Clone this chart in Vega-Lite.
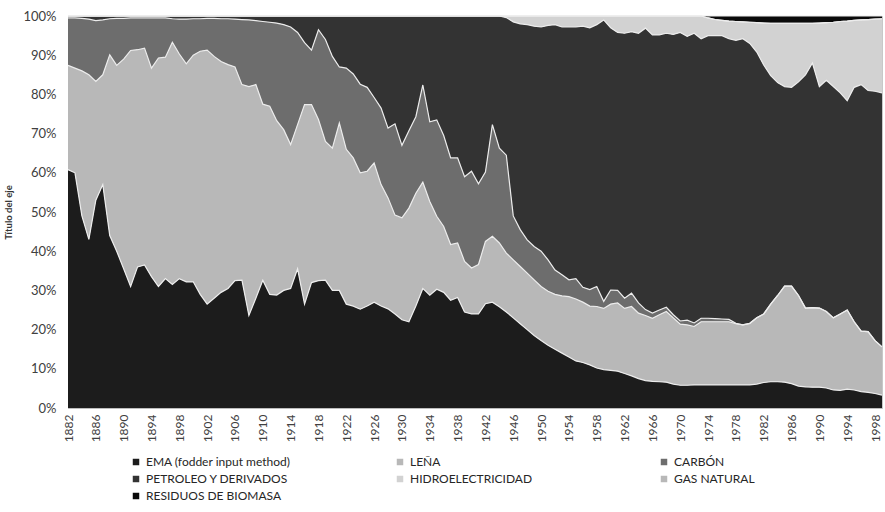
{
  "$schema": "https://vega.github.io/schema/vega-lite/v6.json",
  "width": 814,
  "height": 392,
  "autosize": "none",
  "padding": {"left": 68, "top": 16, "right": 3, "bottom": 104},
  "background": "white",
  "config": {
    "font": "Lato",
    "view": {"stroke": "#c8c8c8", "strokeWidth": 1}
  },
  "datasets": {
    "series": [
      {"k": "a", "serie": "EMA (fodder input method)", "o": 1},
      {"k": "b", "serie": "LEÑA", "o": 2},
      {"k": "c", "serie": "CARBÓN", "o": 3},
      {"k": "d", "serie": "PETROLEO Y DERIVADOS", "o": 4},
      {"k": "e", "serie": "HIDROELECTRICIDAD", "o": 5},
      {"k": "f", "serie": "GAS NATURAL", "o": 6},
      {"k": "g", "serie": "RESIDUOS DE BIOMASA", "o": 7}
    ]
  },
  "data": {
    "values": [
      {"anio":1882,"a":60.8,"b":26.6,"c":12.1,"d":0.5,"e":0,"f":0,"g":0},
      {"anio":1883,"a":60.0,"b":26.7,"c":12.8,"d":0.5,"e":0,"f":0,"g":0},
      {"anio":1884,"a":49.0,"b":37.0,"c":13.4,"d":0.6,"e":0,"f":0,"g":0},
      {"anio":1885,"a":43.0,"b":42.0,"c":14.2,"d":0.8,"e":0,"f":0,"g":0},
      {"anio":1886,"a":53.0,"b":30.3,"c":15.5,"d":1.2,"e":0,"f":0,"g":0},
      {"anio":1887,"a":57.0,"b":28.0,"c":14.0,"d":1.0,"e":0,"f":0,"g":0},
      {"anio":1888,"a":44.0,"b":46.1,"c":9.2,"d":0.7,"e":0,"f":0,"g":0},
      {"anio":1889,"a":40.0,"b":47.4,"c":12.0,"d":0.6,"e":0,"f":0,"g":0},
      {"anio":1890,"a":35.5,"b":53.5,"c":10.4,"d":0.6,"e":0,"f":0,"g":0},
      {"anio":1891,"a":31.0,"b":60.2,"c":8.3,"d":0.5,"e":0,"f":0,"g":0},
      {"anio":1892,"a":36.0,"b":55.4,"c":8.1,"d":0.5,"e":0,"f":0,"g":0},
      {"anio":1893,"a":36.5,"b":55.3,"c":7.7,"d":0.5,"e":0,"f":0,"g":0},
      {"anio":1894,"a":33.5,"b":53.2,"c":12.8,"d":0.5,"e":0,"f":0,"g":0},
      {"anio":1895,"a":31.0,"b":58.3,"c":10.2,"d":0.5,"e":0,"f":0,"g":0},
      {"anio":1896,"a":33.0,"b":56.5,"c":10.0,"d":0.5,"e":0,"f":0,"g":0},
      {"anio":1897,"a":31.5,"b":61.8,"c":6.0,"d":0.7,"e":0,"f":0,"g":0},
      {"anio":1898,"a":33.0,"b":57.3,"c":8.9,"d":0.8,"e":0,"f":0,"g":0},
      {"anio":1899,"a":32.2,"b":55.6,"c":11.4,"d":0.8,"e":0,"f":0,"g":0},
      {"anio":1900,"a":32.2,"b":57.8,"c":9.3,"d":0.7,"e":0,"f":0,"g":0},
      {"anio":1901,"a":29.0,"b":62.0,"c":8.3,"d":0.7,"e":0,"f":0,"g":0},
      {"anio":1902,"a":26.5,"b":64.8,"c":8.1,"d":0.6,"e":0,"f":0,"g":0},
      {"anio":1903,"a":28.0,"b":61.7,"c":9.7,"d":0.6,"e":0,"f":0,"g":0},
      {"anio":1904,"a":29.5,"b":58.9,"c":10.9,"d":0.7,"e":0,"f":0,"g":0},
      {"anio":1905,"a":30.5,"b":57.1,"c":11.7,"d":0.7,"e":0,"f":0,"g":0},
      {"anio":1906,"a":32.5,"b":54.5,"c":12.2,"d":0.8,"e":0,"f":0,"g":0},
      {"anio":1907,"a":32.6,"b":49.9,"c":16.6,"d":0.9,"e":0,"f":0,"g":0},
      {"anio":1908,"a":23.6,"b":58.4,"c":17.0,"d":1.0,"e":0,"f":0,"g":0},
      {"anio":1909,"a":28.0,"b":54.5,"c":16.3,"d":1.2,"e":0,"f":0,"g":0},
      {"anio":1910,"a":32.6,"b":44.9,"c":21.1,"d":1.4,"e":0,"f":0,"g":0},
      {"anio":1911,"a":29.0,"b":48.0,"c":21.4,"d":1.6,"e":0,"f":0,"g":0},
      {"anio":1912,"a":28.8,"b":44.5,"c":24.9,"d":1.8,"e":0,"f":0,"g":0},
      {"anio":1913,"a":30.0,"b":41.0,"c":26.8,"d":2.2,"e":0,"f":0,"g":0},
      {"anio":1914,"a":30.5,"b":36.7,"c":30.0,"d":2.8,"e":0,"f":0,"g":0},
      {"anio":1915,"a":35.5,"b":36.8,"c":23.5,"d":4.2,"e":0,"f":0,"g":0},
      {"anio":1916,"a":26.5,"b":50.9,"c":15.8,"d":6.8,"e":0,"f":0,"g":0},
      {"anio":1917,"a":32.0,"b":45.4,"c":13.9,"d":8.7,"e":0,"f":0,"g":0},
      {"anio":1918,"a":32.5,"b":41.1,"c":22.9,"d":3.5,"e":0,"f":0,"g":0},
      {"anio":1919,"a":32.6,"b":35.4,"c":26.0,"d":6.0,"e":0,"f":0,"g":0},
      {"anio":1920,"a":30.0,"b":36.3,"c":23.4,"d":10.3,"e":0,"f":0,"g":0},
      {"anio":1921,"a":30.0,"b":42.7,"c":14.3,"d":13.0,"e":0,"f":0,"g":0},
      {"anio":1922,"a":26.5,"b":39.5,"c":20.7,"d":13.3,"e":0,"f":0,"g":0},
      {"anio":1923,"a":26.0,"b":37.8,"c":21.4,"d":14.8,"e":0,"f":0,"g":0},
      {"anio":1924,"a":25.2,"b":34.8,"c":22.6,"d":17.4,"e":0,"f":0,"g":0},
      {"anio":1925,"a":26.0,"b":34.4,"c":21.4,"d":18.2,"e":0,"f":0,"g":0},
      {"anio":1926,"a":27.0,"b":35.5,"c":16.7,"d":20.8,"e":0,"f":0,"g":0},
      {"anio":1927,"a":26.0,"b":31.0,"c":19.5,"d":23.5,"e":0,"f":0,"g":0},
      {"anio":1928,"a":25.3,"b":28.3,"c":17.8,"d":28.6,"e":0,"f":0,"g":0},
      {"anio":1929,"a":24.0,"b":25.2,"c":23.3,"d":27.5,"e":0,"f":0,"g":0},
      {"anio":1930,"a":22.5,"b":26.0,"c":18.5,"d":33.0,"e":0,"f":0,"g":0},
      {"anio":1931,"a":22.0,"b":29.0,"c":19.7,"d":29.3,"e":0,"f":0,"g":0},
      {"anio":1932,"a":26.0,"b":28.8,"c":19.5,"d":25.7,"e":0,"f":0,"g":0},
      {"anio":1933,"a":30.5,"b":27.1,"c":24.8,"d":17.6,"e":0,"f":0,"g":0},
      {"anio":1934,"a":28.8,"b":23.9,"c":20.3,"d":27.0,"e":0,"f":0,"g":0},
      {"anio":1935,"a":30.3,"b":18.6,"c":24.6,"d":26.5,"e":0,"f":0,"g":0},
      {"anio":1936,"a":29.5,"b":16.8,"c":23.2,"d":30.5,"e":0,"f":0,"g":0},
      {"anio":1937,"a":27.5,"b":14.2,"c":22.1,"d":36.2,"e":0,"f":0,"g":0},
      {"anio":1938,"a":28.2,"b":13.9,"c":21.7,"d":36.2,"e":0,"f":0,"g":0},
      {"anio":1939,"a":24.5,"b":12.9,"c":21.6,"d":41.0,"e":0,"f":0,"g":0},
      {"anio":1940,"a":24.0,"b":11.7,"c":24.7,"d":39.6,"e":0,"f":0,"g":0},
      {"anio":1941,"a":24.0,"b":12.6,"c":20.6,"d":42.8,"e":0,"f":0,"g":0},
      {"anio":1942,"a":26.6,"b":15.9,"c":17.7,"d":39.8,"e":0,"f":0,"g":0},
      {"anio":1943,"a":27.0,"b":16.8,"c":28.5,"d":27.7,"e":0,"f":0,"g":0},
      {"anio":1944,"a":25.8,"b":16.3,"c":24.2,"d":33.7,"e":0,"f":0,"g":0},
      {"anio":1945,"a":24.5,"b":15.0,"c":25.0,"d":35.1,"e":0.4,"f":0,"g":0},
      {"anio":1946,"a":23.0,"b":14.8,"c":11.2,"d":49.5,"e":1.5,"f":0,"g":0},
      {"anio":1947,"a":21.5,"b":14.6,"c":9.4,"d":52.5,"e":2.0,"f":0,"g":0},
      {"anio":1948,"a":20.0,"b":14.4,"c":8.5,"d":54.9,"e":2.2,"f":0,"g":0},
      {"anio":1949,"a":18.5,"b":14.2,"c":8.5,"d":56.2,"e":2.6,"f":0,"g":0},
      {"anio":1950,"a":17.2,"b":13.8,"c":9.0,"d":57.2,"e":2.8,"f":0,"g":0},
      {"anio":1951,"a":16.0,"b":13.8,"c":8.0,"d":59.8,"e":2.4,"f":0,"g":0},
      {"anio":1952,"a":15.0,"b":14.0,"c":6.2,"d":62.6,"e":2.2,"f":0,"g":0},
      {"anio":1953,"a":14.0,"b":14.6,"c":5.4,"d":63.2,"e":2.8,"f":0,"g":0},
      {"anio":1954,"a":13.0,"b":15.4,"c":4.3,"d":64.5,"e":2.8,"f":0,"g":0},
      {"anio":1955,"a":12.0,"b":15.8,"c":5.2,"d":64.2,"e":2.8,"f":0,"g":0},
      {"anio":1956,"a":11.6,"b":15.4,"c":3.8,"d":66.6,"e":2.6,"f":0,"g":0},
      {"anio":1957,"a":11.0,"b":15.0,"c":4.2,"d":66.8,"e":3.0,"f":0,"g":0},
      {"anio":1958,"a":10.2,"b":15.7,"c":5.1,"d":66.8,"e":2.2,"f":0,"g":0},
      {"anio":1959,"a":9.8,"b":15.6,"c":1.8,"d":71.8,"e":1.0,"f":0,"g":0},
      {"anio":1960,"a":9.6,"b":16.9,"c":3.6,"d":66.9,"e":3.0,"f":0,"g":0},
      {"anio":1961,"a":9.4,"b":17.4,"c":3.2,"d":65.8,"e":4.2,"f":0,"g":0},
      {"anio":1962,"a":8.8,"b":16.6,"c":2.6,"d":67.6,"e":4.4,"f":0,"g":0},
      {"anio":1963,"a":8.2,"b":17.7,"c":3.4,"d":66.7,"e":4.0,"f":0,"g":0},
      {"anio":1964,"a":7.5,"b":16.7,"c":2.6,"d":68.8,"e":4.4,"f":0,"g":0},
      {"anio":1965,"a":7.0,"b":16.6,"c":1.5,"d":71.8,"e":3.1,"f":0,"g":0},
      {"anio":1966,"a":6.8,"b":16.1,"c":1.3,"d":71.0,"e":4.8,"f":0,"g":0},
      {"anio":1967,"a":6.7,"b":17.1,"c":1.2,"d":70.2,"e":4.8,"f":0,"g":0},
      {"anio":1968,"a":6.6,"b":18.0,"c":1.1,"d":69.9,"e":4.4,"f":0,"g":0},
      {"anio":1969,"a":6.1,"b":16.9,"c":0.8,"d":71.5,"e":4.7,"f":0,"g":0},
      {"anio":1970,"a":5.8,"b":15.6,"c":0.8,"d":73.6,"e":4.2,"f":0,"g":0},
      {"anio":1971,"a":5.8,"b":15.4,"c":1.2,"d":72.4,"e":5.2,"f":0,"g":0},
      {"anio":1972,"a":5.9,"b":14.9,"c":0.9,"d":73.9,"e":4.4,"f":0,"g":0},
      {"anio":1973,"a":5.9,"b":16.1,"c":0.9,"d":71.3,"e":5.8,"f":0,"g":0},
      {"anio":1974,"a":5.9,"b":16.1,"c":0.9,"d":72.1,"e":4.5,"f":0,"g":0.5},
      {"anio":1975,"a":5.9,"b":16.1,"c":0.8,"d":72.2,"e":4.1,"f":0,"g":0.9},
      {"anio":1976,"a":5.9,"b":16.1,"c":0.7,"d":72.3,"e":3.9,"f":0,"g":1.1},
      {"anio":1977,"a":5.9,"b":16.1,"c":0.6,"d":71.6,"e":4.5,"f":0,"g":1.3},
      {"anio":1978,"a":5.9,"b":15.6,"c":0.1,"d":72.2,"e":4.8,"f":0,"g":1.4},
      {"anio":1979,"a":5.9,"b":15.3,"c":0,"d":73.0,"e":4.3,"f":0,"g":1.5},
      {"anio":1980,"a":5.9,"b":15.7,"c":0,"d":71.4,"e":5.4,"f":0,"g":1.6},
      {"anio":1981,"a":6.1,"b":16.9,"c":0,"d":67.8,"e":7.5,"f":0,"g":1.7},
      {"anio":1982,"a":6.5,"b":17.5,"c":0,"d":63.5,"e":10.7,"f":0,"g":1.8},
      {"anio":1983,"a":6.7,"b":19.8,"c":0,"d":58.3,"e":13.3,"f":0,"g":1.9},
      {"anio":1984,"a":6.7,"b":22.0,"c":0,"d":54.3,"e":15.1,"f":0,"g":1.9},
      {"anio":1985,"a":6.6,"b":24.5,"c":0,"d":50.9,"e":16.1,"f":0,"g":1.9},
      {"anio":1986,"a":6.2,"b":24.9,"c":0,"d":50.7,"e":16.3,"f":0,"g":1.9},
      {"anio":1987,"a":5.6,"b":23.1,"c":0,"d":54.5,"e":14.9,"f":0,"g":1.9},
      {"anio":1988,"a":5.4,"b":20.1,"c":0,"d":59.5,"e":13.1,"f":0,"g":1.9},
      {"anio":1989,"a":5.3,"b":20.3,"c":0,"d":62.4,"e":10.1,"f":0,"g":1.9},
      {"anio":1990,"a":5.3,"b":20.2,"c":0,"d":56.5,"e":16.2,"f":0,"g":1.8},
      {"anio":1991,"a":5.1,"b":19.5,"c":0,"d":59.0,"e":14.7,"f":0,"g":1.7},
      {"anio":1992,"a":4.6,"b":18.4,"c":0,"d":59.0,"e":16.4,"f":0,"g":1.6},
      {"anio":1993,"a":4.5,"b":19.5,"c":0,"d":56.4,"e":18.2,"f":0,"g":1.4},
      {"anio":1994,"a":4.8,"b":20.2,"c":0,"d":53.4,"e":20.3,"f":0,"g":1.3},
      {"anio":1995,"a":4.6,"b":17.4,"c":0,"d":59.8,"e":17.1,"f":0,"g":1.1},
      {"anio":1996,"a":4.2,"b":15.4,"c":0,"d":62.9,"e":16.5,"f":0,"g":1.0},
      {"anio":1997,"a":4.0,"b":15.5,"c":0,"d":61.5,"e":18.1,"f":0,"g":0.9},
      {"anio":1998,"a":3.7,"b":13.5,"c":0,"d":63.6,"e":18.4,"f":0,"g":0.8},
      {"anio":1999,"a":3.3,"b":12.3,"c":0,"d":64.8,"e":18.9,"f":0,"g":0.7}
    ]
  },
  "transform": [
    {"fold": ["a", "b", "c", "d", "e", "f", "g"], "as": ["k", "v"]},
    {"lookup": "k", "from": {"data": {"name": "series"}, "key": "k", "fields": ["serie", "o"]}}
  ],
  "encoding": {
    "x": {
      "field": "anio", "type": "quantitative",
      "scale": {"domain": [1882, 1999], "nice": false, "zero": false},
      "axis": {
        "title": null, "values": [1882,1886,1890,1894,1898,1902,1906,1910,1914,1918,1922,1926,1930,1934,1938,1942,1946,1950,1954,1958,1962,1966,1970,1974,1978,1982,1986,1990,1994,1998],
        "format": "d", "labelAngle": -90, "labelAlign": "right", "labelBaseline": "middle",
        "ticks": false, "grid": false, "labelPadding": 6, "labelFontSize": 12, "labelColor": "#404040",
        "domainColor": "#bdbdbd", "labelFont": "Lato", "labelFlush": false, "labelOverlap": false, "labelSeparation": 0
      }
    },
    "y": {
      "field": "v", "type": "quantitative", "stack": "normalize",
      "scale": {"domain": [0, 1]},
      "axis": {
        "title": "Título del eje", "titleFontSize": 9.5, "titleFontWeight": "bold", "titleColor": "#333333", "titlePadding": 9,
        "format": ".0%", "values": [0,0.1,0.2,0.3,0.4,0.5,0.6,0.7,0.8,0.9,1],
        "ticks": false, "grid": false, "labelPadding": 12, "labelFontSize": 13, "labelColor": "#404040",
        "domainColor": "#bdbdbd", "labelFont": "Lato"
      }
    },
    "order": {"field": "o", "type": "quantitative"}
  },
  "layer": [
    {
      "mark": {"type": "area", "interpolate": "linear"},
      "encoding": {
        "color": {
          "field": "serie", "type": "nominal", "sort": null,
          "scale": {
            "domain": ["EMA (fodder input method)", "LEÑA", "CARBÓN", "PETROLEO Y DERIVADOS", "HIDROELECTRICIDAD", "GAS NATURAL", "RESIDUOS DE BIOMASA"],
            "range": ["#1c1c1c", "#b8b8b8", "#6d6d6d", "#333333", "#d2d2d2", "#b8b8b8", "#0a0a0a"]
          },
          "legend": {
            "title": null, "orient": "none", "legendX": 62, "legendY": 440, "direction": "horizontal",
            "columns": 3, "gridAlign": "all", "columnPadding": 103, "rowPadding": 5,
            "symbolType": "square", "symbolSize": 42, "symbolStrokeWidth": 0, "symbolOffset": 0,
            "labelFontSize": 12, "labelColor": "#262626", "labelFont": "Lato", "labelOffset": 4, "labelLimit": 300
          }
        }
      }
    },
    {
      "mark": {"type": "line", "color": "#ececec", "strokeWidth": 1.2, "interpolate": "linear"},
      "encoding": {
        "detail": {"field": "serie", "type": "nominal"}
      }
    }
  ]
}
